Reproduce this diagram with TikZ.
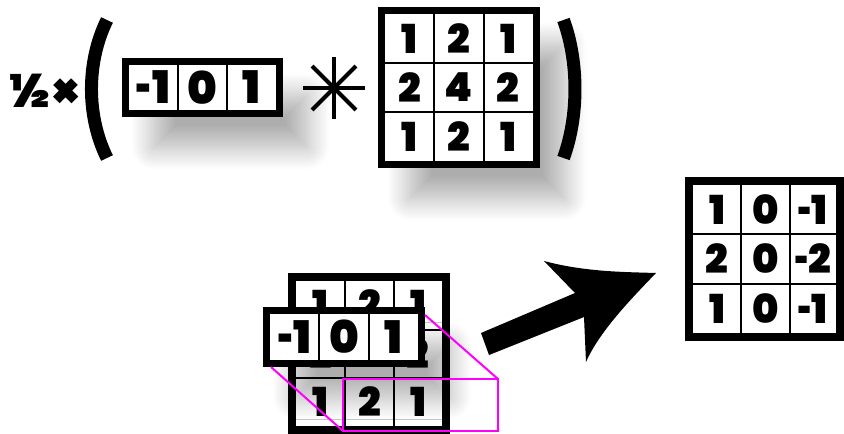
\documentclass[tikz,border=0pt]{standalone}
\usepackage{fontspec}
\setmainfont{Poppins}[BoldFont={Poppins Black}]
\usetikzlibrary{shadows.blur}
\definecolor{mag}{RGB}{255,0,255}
\newcommand{\shy}{\scalebox{0.6}[1]{-}\kern-0.5pt}
\tikzset{
  frame/.style={draw=black, fill=white, line width=7pt, inner sep=0pt, outer sep=0pt},
  sepline/.style={line width=2pt},
  dig/.style={font=\bfseries\fontsize{40}{40}\selectfont, inner sep=0pt},
  kdig/.style={font=\bfseries\fontsize{45}{45}\selectfont, inner sep=0pt},
  shad/.style={blur shadow={shadow xshift=28pt, shadow yshift=-34pt, shadow blur radius=22pt, shadow opacity=32, shadow blur steps=24}},
  proj/.style={draw=mag, line width=2pt},
  paren/.style={line width=13pt},
}
\begin{document}
\begin{tikzpicture}[x=1pt,y=-1pt]
\useasboundingbox (0,0) rectangle (844,434);

% top kernel 1x3
\node[frame, shad, minimum width=154pt, minimum height=52pt] (k1) at (202.5,87.5) {};
\draw[sepline] (178,63) -- (178,112);
\draw[sepline] (227,63) -- (227,112);
\node[kdig] (k1a) at (153.5,87.5) {\shy1};
\node[kdig] (k1b) at (202.5,87.5) {0};
\node[kdig] (k1c) at (251.5,87.5) {1};

% top 3x3 matrix
\node[frame, shad, minimum width=155pt, minimum height=154pt] (m1) at (459,87.5) {};
\draw[sepline] (434.3,12) -- (434.3,163);
\draw[sepline] (483.7,12) -- (483.7,163);
\draw[sepline] (383,63) -- (535,63);
\draw[sepline] (383,112) -- (535,112);
\node[dig] (m11) at (409.7,38.5) {1};
\node[dig] (m12) at (459,38.5) {2};
\node[dig] (m13) at (508.3,38.5) {1};
\node[dig] (m21) at (409.7,87.5) {2};
\node[dig] (m22) at (459,87.5) {4};
\node[dig] (m23) at (508.3,87.5) {2};
\node[dig] (m31) at (409.7,136.5) {1};
\node[dig] (m32) at (459,136.5) {2};
\node[dig] (m33) at (508.3,136.5) {1};

% half times, asterisk, parentheses
\node[font=\bfseries\fontsize{47}{47}\selectfont, inner sep=0pt] (half) at (44,91) {½×};
\coordinate (ast) at (334,88);
\foreach \a in {0,45,90,135} \draw[line width=4pt] (ast) ++(\a:31) -- ++(\a+180:62);
\draw[paren] (107,20) .. controls (86.3,62) and (86.3,116) .. (107,158);
\draw[paren] (563.5,20) .. controls (578.8,62) and (578.8,116) .. (563.5,158);

% result matrix
\node[frame, line width=8pt, minimum width=151pt, minimum height=156pt] (r) at (764.5,259) {};
\draw[sepline] (741,183) -- (741,335);
\draw[sepline] (790,183) -- (790,335);
\draw[sepline] (691,234) -- (838,234);
\draw[sepline] (691,284) -- (838,284);
\node[dig] (r11) at (717,209.5) {1};
\node[dig] (r12) at (765.5,209.5) {0};
\node[dig] (r13) at (813,209.5) {\shy1};
\node[dig] (r21) at (717,259) {2};
\node[dig] (r22) at (765.5,259) {0};
\node[dig] (r23) at (813,259) {\shy2};
\node[dig] (r31) at (717,308.5) {1};
\node[dig] (r32) at (765.5,308.5) {0};
\node[dig] (r33) at (813,308.5) {\shy1};

% bottom matrix
\node[frame, line width=8pt, minimum width=154pt, minimum height=153pt] (b) at (369,353.5) {};
\draw[sepline] (345,279) -- (345,428);
\draw[sepline] (394,279) -- (394,428);
\draw[sepline] (294,329.5) -- (444,329.5);
\draw[sepline] (294,378) -- (444,378);
\node[dig] (b11) at (320.5,305) {1};
\node[dig] (b12) at (369.5,305) {2};
\node[dig] (b13) at (418,305) {1};
\node[dig] (b21) at (320.5,353.5) {2};
\node[dig] (b22) at (369.5,353.5) {4};
\node[dig] (b23) at (418,353.5) {2};
\node[dig] (b31) at (320.5,402) {1};
\node[dig] (b32) at (369.5,402) {2};
\node[dig] (b33) at (418,402) {1};

% sliding kernel
\node[frame, shad, minimum width=155pt, minimum height=53pt] (k2) at (344,337) {};
\draw[sepline] (319.3,312) -- (319.3,362);
\draw[sepline] (368.7,312) -- (368.7,362);
\node[kdig] (k2a) at (294.7,337) {\shy1};
\node[kdig] (k2b) at (344,337) {0};
\node[kdig] (k2c) at (393.3,337) {1};

% projection
\coordinate (ptr) at (425,315);
\coordinate (pbl) at (271,367);
\coordinate (qtr) at (498,379);
\coordinate (qbl) at (343,431);
\draw[proj] (ptr) -- (qtr);
\draw[proj] (pbl) -- (qbl);
\draw[proj] (qbl) rectangle (qtr);

% arrow
\fill (481,333) -- (575,293) -- (544,261)
  .. controls (585,272) and (625,272) .. (656,273)
  .. controls (635,295) and (600,330) .. (586,362)
  -- (584,317) -- (489,355) -- cycle;
\end{tikzpicture}
\end{document}
